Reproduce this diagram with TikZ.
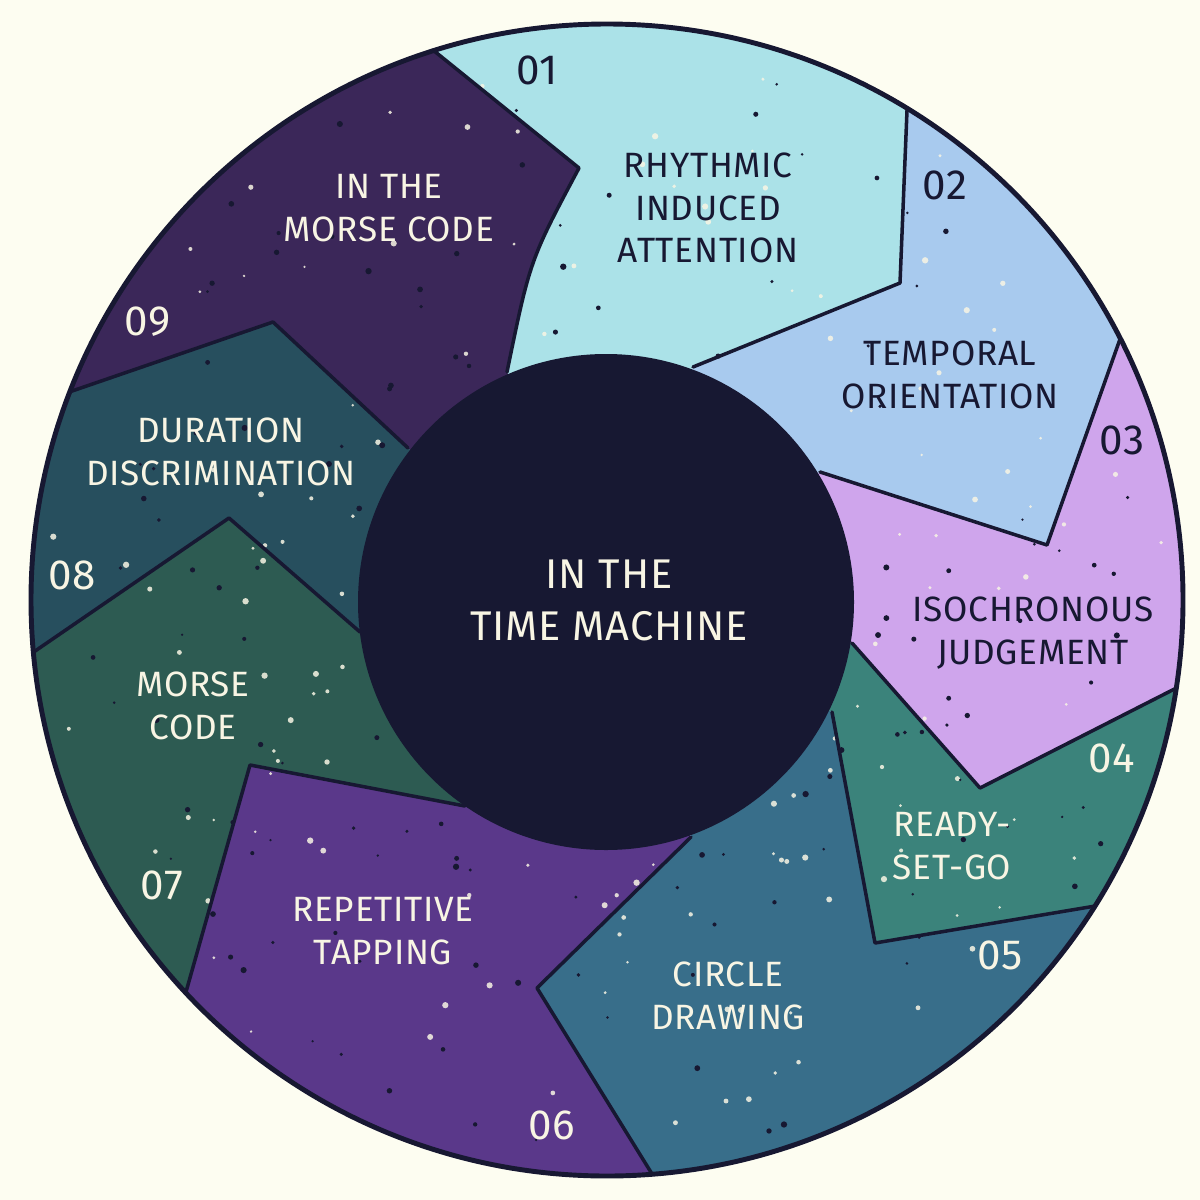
\documentclass[tikz,border=0pt]{standalone}
\usepackage{fontspec}
\setmainfont{Fira Sans}[LetterSpace=2]
\usepackage{tikz}
\definecolor{paper}{HTML}{FDFDF1}
\definecolor{ink}{HTML}{171832}
\definecolor{cream}{HTML}{F8F5E4}
\definecolor{rhythm}{HTML}{ABE2E8}
\definecolor{temporal}{HTML}{A8CAEE}
\definecolor{isochron}{HTML}{CFA5EC}
\definecolor{ready}{HTML}{3B837B}
\definecolor{circdraw}{HTML}{386E8A}
\definecolor{tapping}{HTML}{5A388A}
\definecolor{morse}{HTML}{2D5B52}
\definecolor{duration}{HTML}{274F5E}
\definecolor{inmorse}{HTML}{3B2759}

\begin{document}
\begin{tikzpicture}[x=0.01cm,y=-0.01cm,
    seam/.style={draw=ink,line width=1pt,line join=round,line cap=round},
    lbl/.style={font=\fontsize{10}{12.1}\selectfont,align=center,inner sep=0pt},
    num/.style={font=\fontsize{12}{14}\selectfont,inner sep=0pt}]
    \fill[paper] (0,0) rectangle (1200,1200);
    \coordinate (c) at (607,600);
    \coordinate (m) at (606,602);
    \coordinate (a1) at (507,372);
    \coordinate (a2) at (693,367);
    \coordinate (a3) at (820,472);
    \coordinate (a4) at (852,643);
    \coordinate (a5) at (832,712);
    \coordinate (a6) at (691,837);
    \coordinate (a7) at (465,806);
    \coordinate (a8) at (360,632);
    \coordinate (a9) at (408,448);
    \coordinate (k1) at (579,168);
    \coordinate (k2) at (900,283);
    \coordinate (k3) at (1047,545);
    \coordinate (k4) at (980,788);
    \coordinate (k5) at (875,943);
    \coordinate (k6) at (537,988);
    \coordinate (k7) at (250,765);
    \coordinate (k8) at (229,518);
    \coordinate (k9) at (273,322);
    \foreach \n/\t in {1/252.5,2/301.4,3/-27,4/8.8,5/32.1,6/85.5,7/137,8/174.8,9/201.2} {
        \coordinate (o\n) at ([shift={(607,600)}]\t:576);
        \coordinate (f\n) at ([shift={(607,600)}]\t:900);
    }
    \begin{scope}
        \clip (c) circle[radius=576];
        \fill[rhythm] (a1) .. controls (530,260) .. (k1) -- (o1) -- (f1) -- (f2) -- (o2) -- (k2) -- (a2) -- (m) -- cycle;
        \fill[temporal] (a2) -- (k2) -- (o2) -- (f2) -- (f3) -- (o3) -- (k3) -- (a3) -- (m) -- cycle;
        \fill[isochron] (a3) -- (k3) -- (o3) -- (f3) -- (f4) -- (o4) -- (k4) -- (a4) -- (m) -- cycle;
        \fill[ready] (a4) -- (k4) -- (o4) -- (f4) -- (f5) -- (o5) -- (k5) -- (a5) -- (m) -- cycle;
        \fill[circdraw] (a5) -- (k5) -- (o5) -- (f5) -- (f6) -- (o6) -- (k6) -- (a6) -- (m) -- cycle;
        \fill[tapping] (a6) -- (k6) -- (o6) -- (f6) -- (f7) -- (o7) -- (k7) -- (a7) -- (m) -- cycle;
        \fill[morse] (a7) -- (k7) -- (o7) -- (f7) -- (f8) -- (o8) -- (k8) -- (a8) -- (m) -- cycle;
        \fill[duration] (a8) -- (k8) -- (o8) -- (f8) -- (f9) -- (o9) -- (k9) -- (a9) -- (m) -- cycle;
        \fill[inmorse] (a9) -- (k9) -- (o9) -- (f9) -- (f1) -- (o1) -- (k1) .. controls (530,260) .. (a1) -- (m) -- cycle;
        \pgfmathsetseed{42}
        \foreach \i in {1,...,130} {
            \pgfmathsetmacro\ang{360*rnd}
            \pgfmathsetmacro\rad{262+300*rnd}
            \pgfmathsetmacro\sz{1.2+2*rnd}
            \fill[cream,opacity=.85] ([shift={(606,602)}]\ang:\rad) circle[radius=\sz];
        }
        \foreach \i in {1,...,130} {
            \pgfmathsetmacro\ang{360*rnd}
            \pgfmathsetmacro\rad{262+300*rnd}
            \pgfmathsetmacro\sz{1.2+2*rnd}
            \fill[ink] ([shift={(606,602)}]\ang:\rad) circle[radius=\sz];
        }
    \end{scope}
    \draw[seam] (a1) .. controls (530,260) .. (k1) -- (o1);
    \foreach \n in {2,...,9}
        \draw[seam] (a\n) -- (k\n) -- (o\n);
    \draw[seam,line width=1.4pt] (c) circle[radius=576];
    \fill[ink] (m) circle[radius=248];
    \node[num,text=ink] (n01) at (537,70) {01};
    \node[num,text=ink] (n02) at (945,185) {02};
    \node[num,text=ink] (n03) at (1122,440) {03};
    \node[num,text=cream] (n04) at (1112,758) {04};
    \node[num,text=cream] (n05) at (1000,955) {05};
    \node[num,text=cream] (n06) at (552,1125) {06};
    \node[num,text=cream] (n07) at (162,885) {07};
    \node[num,text=cream] (n08) at (72,575) {08};
    \node[num,text=cream] (n09) at (148,322) {09};
    \node[lbl,text=ink] (t01) at (708,208) {RHYTHMIC\\INDUCED\\ATTENTION};
    \node[lbl,text=ink] (t02) at (950,375) {TEMPORAL\\ORIENTATION};
    \node[lbl,text=ink] (t03) at (1033,633) {ISOCHRONOUS\\JUDGEMENT};
    \node[lbl,text=cream] (t04) at (952,846) {READY-\\SET-GO};
    \node[lbl,text=cream] (t05) at (728,996) {CIRCLE\\DRAWING};
    \node[lbl,text=cream] (t06) at (383,931) {REPETITIVE\\TAPPING};
    \node[lbl,text=cream] (t07) at (193,706) {MORSE\\CODE};
    \node[lbl,text=cream] (t08) at (221,452) {DURATION\\DISCRIMINATION};
    \node[lbl,text=cream] (t09) at (389,208) {IN THE\\MORSE CODE};
    \node[lbl,text=cream,font=\fontsize{11.8}{14.8}\selectfont] (hub) at (609,600) {IN THE\\TIME MACHINE};
\end{tikzpicture}
\end{document}
